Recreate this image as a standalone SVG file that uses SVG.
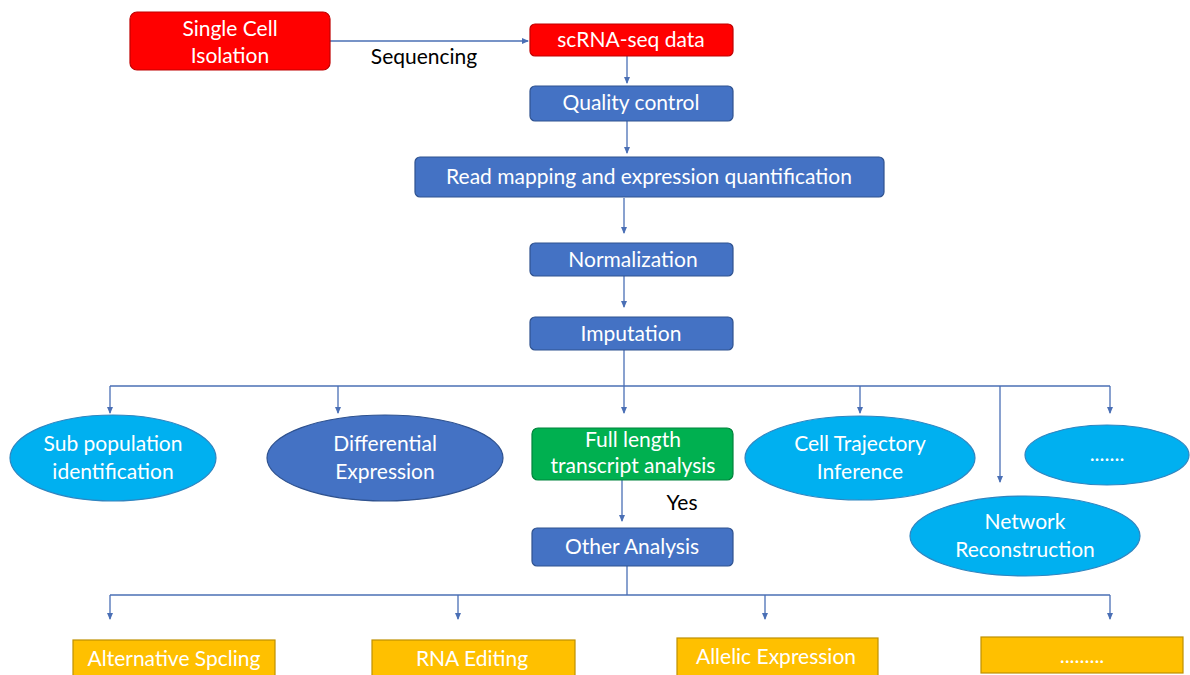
<svg xmlns="http://www.w3.org/2000/svg" width="1190" height="675" viewBox="0 0 1190 675">
<defs>
<marker id="ah" markerWidth="8" markerHeight="8" refX="6" refY="4" orient="auto" markerUnits="userSpaceOnUse">
<path d="M0,1 L7,4 L0,7 Z" fill="#4a6fb5"/>
</marker>
<style>
.t{font-family:Lato,"Liberation Sans",sans-serif;font-size:21px;fill:#fff;text-anchor:middle}
.k{font-family:Lato,"Liberation Sans",sans-serif;font-size:21px;fill:#000;text-anchor:middle}
.red{fill:#ff0000;stroke:#c00000;stroke-width:1.2}
.blue{fill:#4472c4;stroke:#2f528f;stroke-width:1.2}
.lb{fill:#00b0f0;stroke:#2f85c0;stroke-width:1.2}
.gr{fill:#00b050;stroke:#00843c;stroke-width:1.2}
.or{fill:#ffc000;stroke:#bf9000;stroke-width:1.2}
.c{fill:none;stroke:#4a6fb5;stroke-width:1.3}
.a{marker-end:url(#ah)}
</style>
</defs>
<rect width="1190" height="675" fill="#fff"/>
<g id="connectors">
<line class="c a" x1="330" y1="41" x2="528" y2="41"/>
<line class="c a" x1="627" y1="56" x2="627" y2="83"/>
<line class="c a" x1="627" y1="121" x2="627" y2="153"/>
<line class="c a" x1="624" y1="198" x2="624" y2="233"/>
<line class="c a" x1="624" y1="276" x2="624" y2="307"/>
<line class="c" x1="624" y1="350" x2="624" y2="386"/>
<line class="c" x1="110" y1="386" x2="1110" y2="386"/>
<line class="c a" x1="110" y1="386" x2="110" y2="413"/>
<line class="c a" x1="338" y1="386" x2="338" y2="413"/>
<line class="c a" x1="624" y1="386" x2="624" y2="413"/>
<line class="c a" x1="860" y1="386" x2="860" y2="413"/>
<line class="c a" x1="1000" y1="386" x2="1000" y2="482"/>
<line class="c a" x1="1110" y1="386" x2="1110" y2="413"/>
<line class="c a" x1="622" y1="480" x2="622" y2="521"/>
<line class="c" x1="627" y1="566" x2="627" y2="595"/>
<line class="c" x1="110" y1="595" x2="1110" y2="595"/>
<line class="c a" x1="110" y1="595" x2="110" y2="619"/>
<line class="c a" x1="458" y1="595" x2="458" y2="619"/>
<line class="c a" x1="765" y1="595" x2="765" y2="619"/>
<line class="c a" x1="1110" y1="595" x2="1110" y2="619"/>
<text class="k" x="424" y="64">Sequencing</text>
<text class="k" x="682" y="510">Yes</text>
</g>
<g id="single-cell"><rect class="red" x="130" y="12" width="200" height="58" rx="7"/><text class="t" x="230" y="36">Single Cell</text><text class="t" x="230" y="63">Isolation</text></g>
<g id="scrna"><rect class="red" x="530" y="24" width="203" height="32" rx="5"/><text class="t" x="631" y="47">scRNA-seq data</text></g>
<g id="qc"><rect class="blue" x="530" y="86" width="203" height="35" rx="5"/><text class="t" x="631" y="110">Quality control</text></g>
<g id="readmap"><rect class="blue" x="415" y="157" width="469" height="40" rx="5"/><text class="t" x="649" y="184">Read mapping and expression quantification</text></g>
<g id="norm"><rect class="blue" x="530" y="243" width="203" height="33" rx="5"/><text class="t" x="633" y="267">Normalization</text></g>
<g id="imput"><rect class="blue" x="530" y="317" width="203" height="33" rx="5"/><text class="t" x="631" y="341">Imputation</text></g>
<g id="subpop"><ellipse class="lb" cx="113" cy="458" rx="103" ry="43"/><text class="t" x="113" y="451">Sub population</text><text class="t" x="113" y="479">identification</text></g>
<g id="diffexp"><ellipse class="blue" cx="385" cy="458" rx="118" ry="43"/><text class="t" x="385" y="451">Differential</text><text class="t" x="385" y="479">Expression</text></g>
<g id="fulllength"><rect class="gr" x="532" y="428" width="201" height="52" rx="6"/><text class="t" x="633" y="447">Full length</text><text class="t" x="633" y="473">transcript analysis</text></g>
<g id="trajectory"><ellipse class="lb" cx="860" cy="458" rx="115" ry="42"/><text class="t" x="860" y="451">Cell Trajectory</text><text class="t" x="860" y="479">Inference</text></g>
<g id="etc1"><ellipse class="lb" cx="1107" cy="455" rx="82" ry="30"/><text class="t" x="1107" y="461">.......</text></g>
<g id="network"><ellipse class="lb" cx="1025" cy="536" rx="115" ry="40"/><text class="t" x="1025" y="529">Network</text><text class="t" x="1025" y="557">Reconstruction</text></g>
<g id="other"><rect class="blue" x="532" y="528" width="201" height="38" rx="5"/><text class="t" x="632" y="554">Other Analysis</text></g>
<g id="altspl"><rect class="or" x="73" y="640" width="202" height="40"/><text class="t" x="174" y="666">Alternative Spcling</text></g>
<g id="rnaedit"><rect class="or" x="372" y="640" width="203" height="40"/><text class="t" x="472" y="666">RNA Editing</text></g>
<g id="allelic"><rect class="or" x="677" y="638" width="201" height="42"/><text class="t" x="776" y="664">Allelic Expression</text></g>
<g id="etc2"><rect class="or" x="981" y="637" width="202" height="36"/><text class="t" x="1082" y="663">.........</text></g>
</svg>
